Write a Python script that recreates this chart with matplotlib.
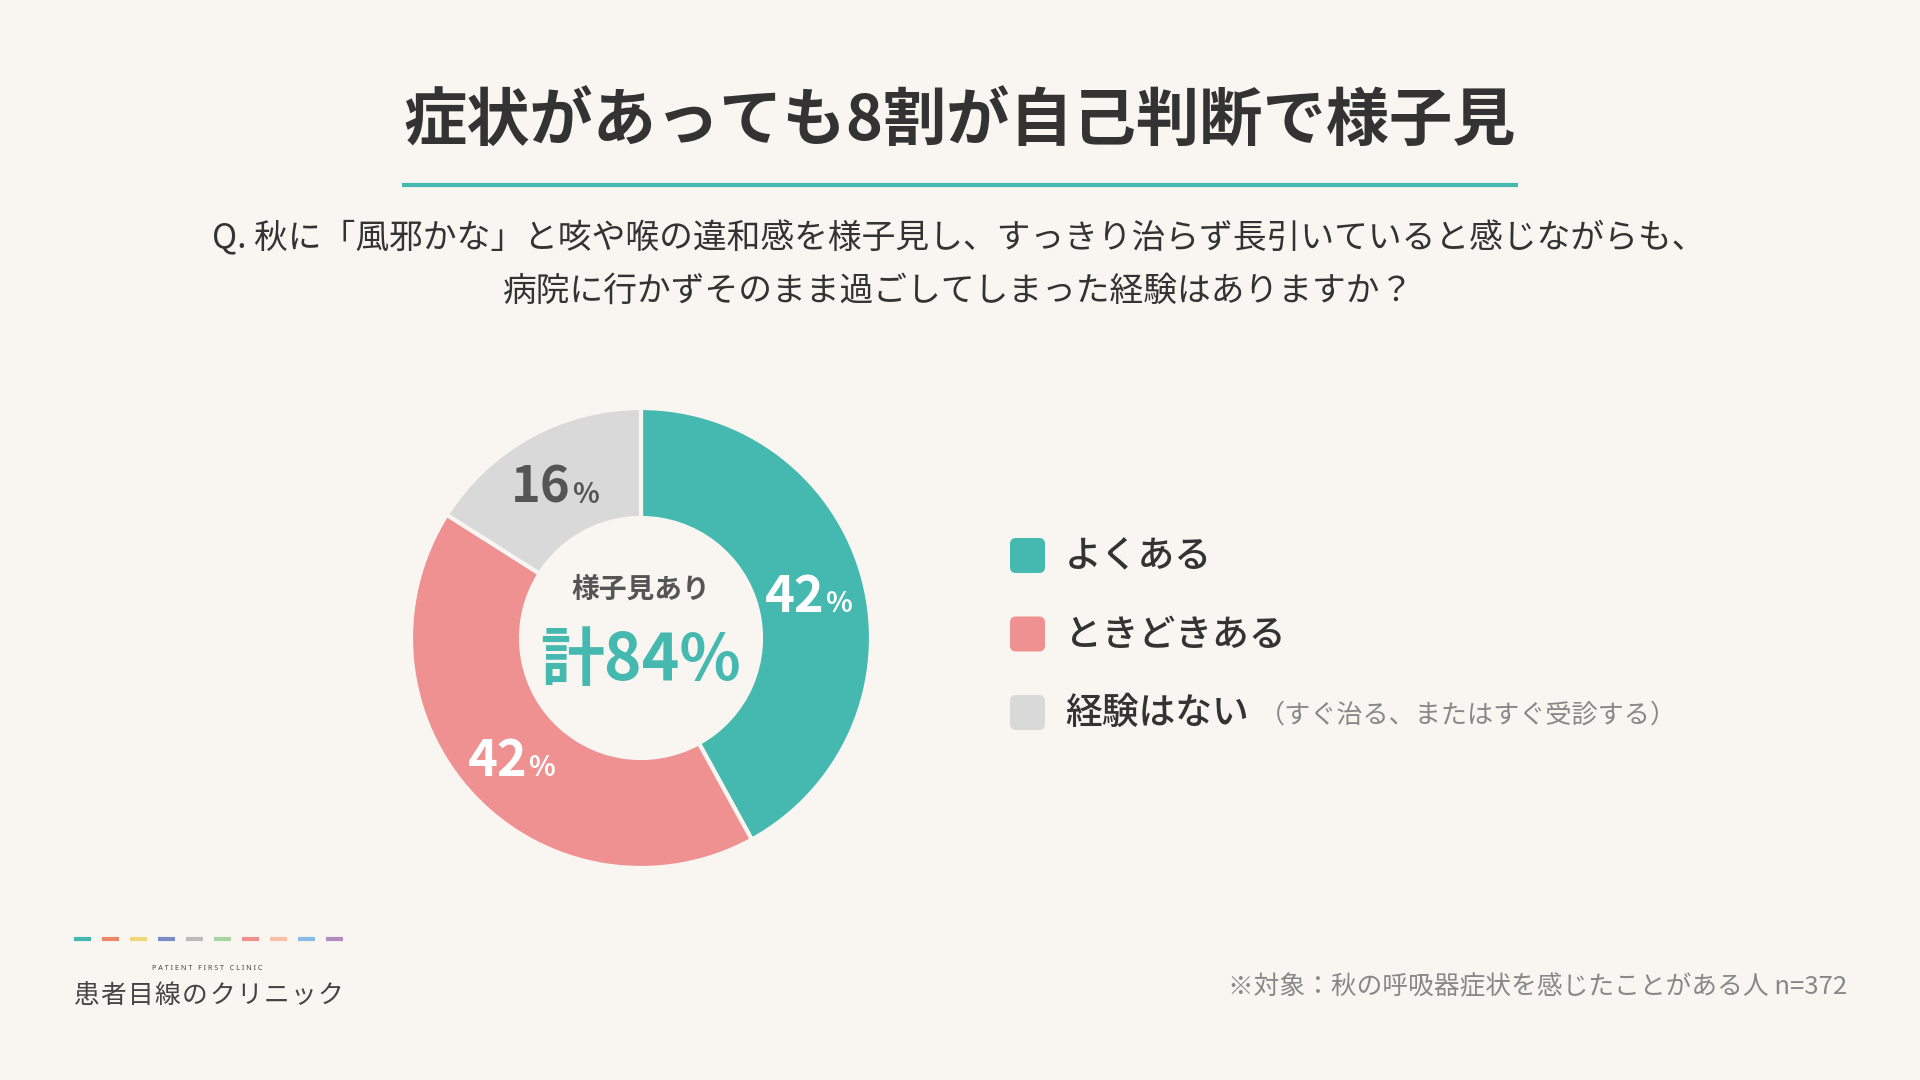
import matplotlib
matplotlib.use('Agg')
import matplotlib.pyplot as plt
import numpy as np
from matplotlib.patches import FancyBboxPatch

plt.rcParams['font.family'] = ['Noto Sans CJK JP', 'DejaVu Sans']

# ---- data -------------------------------------------------------------
title = '症状があっても8割が自己判断で様子見'
question = ['Q. 秋に「風邪かな」と咳や喉の違和感を様子見し、すっきり治らず長引いていると感じながらも、',
            '病院に行かずそのまま過ごしてしまった経験はありますか？']
labels = ['よくある', 'ときどきある', '経験はない']
label_notes = ['', '', '（すぐ治る、またはすぐ受診する）']
values = [42, 42, 16]
center_caption = '様子見あり'
center_total = '計84%'
footnote = '※対象：秋の呼吸器症状を感じたことがある人 n=372'
logo_sub = 'P A T I E N T   F I R S T   C L I N I C'
logo_name = '患者目線のクリニック'

# ---- style ------------------------------------------------------------
BG = '#f9f6f1'
TEAL = '#45b9af'
PINK = '#ef9190'
GRAY = '#d9d9d9'
colors = [TEAL, PINK, GRAY]
label_colors = ['white', 'white', '#555555']
DARK = '#333333'
logo_colors = ['#45b8ae', '#e88a6a', '#f0d878', '#7a8cc8', '#bbbbbb',
               '#a8d4a0', '#ef9090', '#f8c0a8', '#88bce6', '#b08cc0']

W, H = 1920, 1080
fig = plt.figure(figsize=(W / 100, H / 100), dpi=100, facecolor=BG)

# overlay axes in pixel coordinates (origin top-left)
ov = fig.add_axes([0, 0, 1, 1])
ov.set_xlim(0, W)
ov.set_ylim(H, 0)
ov.axis('off')
ov.set_facecolor(BG)

# title + underline
ov.text(960, 122, title, ha='center', va='center', fontsize=45.5,
        fontweight='bold', color=DARK)
ov.plot([402, 1518], [185, 185], color=TEAL, lw=3, solid_capstyle='butt')

# question
for i, line in enumerate(question):
    ov.text(959, 239 + i * 52, line, ha='center', va='center', fontsize=24.3, color=DARK)

# ---- donut ------------------------------------------------------------
cx, cy, R = 641, 638, 230
ax = fig.add_axes([(cx - 250) / W, (H - cy - 250) / H, 500 / W, 500 / H])
ax.pie(values, colors=colors, startangle=90, counterclock=False, radius=R,
       wedgeprops=dict(width=110, edgecolor=BG, linewidth=3))
ax.set_xlim(-250, 250)
ax.set_ylim(-250, 250)
ax.set_aspect('equal')
ax.axis('off')

start = 90.0
for v, c in zip(values, label_colors):
    mid = np.deg2rad(start - v * 360 / 100 / 2)
    start -= v * 360 / 100
    lx, ly = 175 * np.cos(mid), 175 * np.sin(mid)
    ax.text(lx + 14, ly - 18, str(v), ha='right', va='baseline', fontsize=36.5,
            fontweight='bold', color=c)
    ax.text(lx + 15, ly - 18, '%', ha='left', va='baseline', fontsize=20,
            fontweight='bold', color=c)

ax.text(0, 48, center_caption, ha='center', va='center', fontsize=20,
        fontweight='bold', color='#555555')
ax.text(0, -23, center_total, ha='center', va='center', fontsize=46,
        fontweight='bold', color=TEAL)

# ---- legend -----------------------------------------------------------
for i, (lab, note, col) in enumerate(zip(labels, label_notes, colors)):
    y = 556 + i * 78.5
    ov.add_patch(FancyBboxPatch((1010, y - 18), 35, 35,
                                boxstyle='round,pad=0,rounding_size=6',
                                facecolor=col, edgecolor='none'))
    ov.text(1065, y, lab, ha='left', va='center', fontsize=26.5,
            fontweight='medium', color=DARK)
    if note:
        ov.text(1259, y + 2, note, ha='left', va='center', fontsize=18.8,
                color='#888888')

# ---- footnote ---------------------------------------------------------
ov.text(1847, 987, footnote, ha='right', va='center', fontsize=18.5, color='#888888')

# ---- logo -------------------------------------------------------------
for i, c in enumerate(logo_colors):
    x0 = 74 + i * 28
    ov.plot([x0, x0 + 17], [939, 939], color=c, lw=3, solid_capstyle='butt')
ov.text(207, 969, logo_sub, ha='center', va='center', fontsize=5.2,
        color='#444444', family=['Noto Sans', 'DejaVu Sans'])
for i, ch in enumerate(logo_name):
    ov.text(86 + i * 27.2, 996, ch, ha='center', va='center', fontsize=18.5, color='#444444')

fig.savefig('out.png', dpi=100, facecolor=BG)
